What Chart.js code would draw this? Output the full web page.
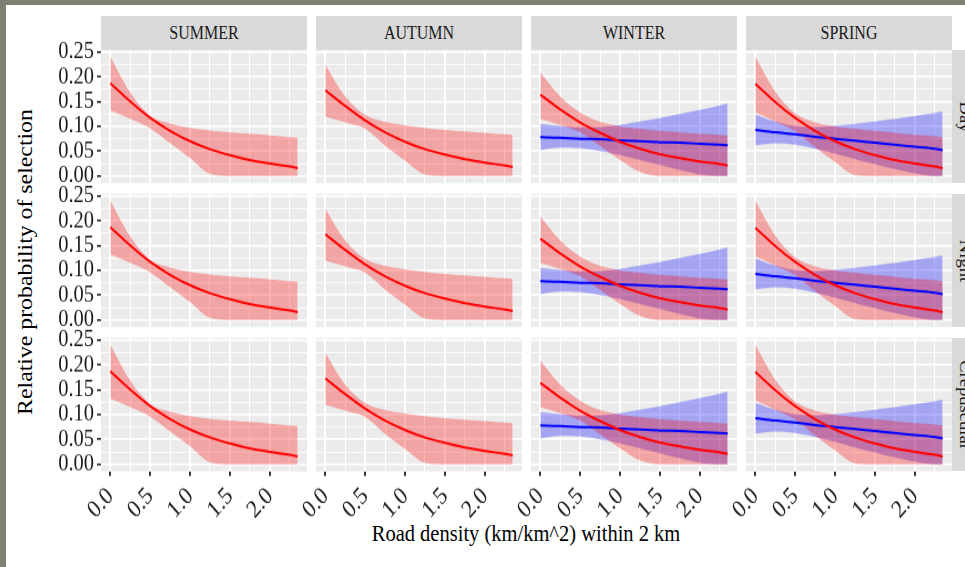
<!DOCTYPE html>
<html>
<head>
<meta charset="utf-8">
<script src="https://cdn.jsdelivr.net/npm/chart.js@4.4.1/dist/chart.umd.min.js"></script>
<style>
html, body { margin: 0; padding: 0; }
body { width: 965px; height: 567px; overflow: hidden; background: #7d8173; position: relative; font-family: 'Liberation Serif', 'Times New Roman', serif; }
#page { position: absolute; left: 6px; top: 5px; width: 959px; height: 562px; background: #fff; }
canvas { position: absolute; }
.strip { position: absolute; background: #d9d9d9; color: #1a1a1a; font-size: 16px; display: flex; align-items: center; justify-content: center; overflow: hidden; }
.strip span { transform: scaleY(1.16); white-space: nowrap; }
.strip span.rot { transform: translateX(-4px) scaleY(1.16) rotate(90deg); }
.title { position: absolute; color: #000; font-size: 20.5px; white-space: nowrap; }
</style>
</head>
<body>
<div id="page"></div>
<div class="title" style="left:25px; top:262px; transform:translate(-50%,-50%) scaleY(1.16) rotate(-90deg);">Relative probability of selection</div>
<div class="title" style="left:526px; top:533px; transform:translate(-50%,-50%) scaleY(1.16);">Road density (km/km^2) within 2 km</div>
<script>
const seasons = ['SUMMER', 'AUTUMN', 'WINTER', 'SPRING'];
const periods = ['Day', 'Night', 'Crepuscular'];

const roadDensity = [0, 0.25, 0.5, 0.75, 1.0, 1.25, 1.5, 1.75, 2.0, 2.25, 2.35];

const xTicks = [0, 0.5, 1.0, 1.5, 2.0];
const xMinor = [0.25, 0.75, 1.25, 1.75, 2.25];
const yTicks = [0, 0.05, 0.10, 0.15, 0.20, 0.25];
const yMinor = [0.025, 0.075, 0.125, 0.175, 0.225];

// red group
const summerFit = [0.187, 0.150, 0.117, 0.091, 0.070, 0.054, 0.042, 0.032, 0.025, 0.019, 0.016];
const summerHi  = [0.241, 0.168, 0.121, 0.106, 0.097, 0.092, 0.088, 0.085, 0.082, 0.078, 0.077];
const summerLo  = [0.132, 0.115, 0.096, 0.066, 0.036, 0.004, 0, 0, 0, 0, 0];

const autumnFit = [0.173, 0.141, 0.112, 0.088, 0.069, 0.054, 0.043, 0.034, 0.027, 0.021, 0.018];
const autumnHi  = [0.224, 0.160, 0.123, 0.109, 0.102, 0.097, 0.093, 0.090, 0.087, 0.084, 0.083];
const autumnLo  = [0.120, 0.108, 0.095, 0.061, 0.031, 0.003, 0, 0, 0, 0, 0];

const winterFit = [0.164, 0.134, 0.108, 0.087, 0.069, 0.055, 0.044, 0.036, 0.029, 0.024, 0.021];
const winterHi  = [0.209, 0.160, 0.128, 0.109, 0.100, 0.095, 0.091, 0.088, 0.085, 0.083, 0.082];
const winterLo  = [0.115, 0.103, 0.088, 0.060, 0.032, 0.008, 0, 0, 0, 0, 0];

const springFit = [0.186, 0.149, 0.117, 0.091, 0.070, 0.054, 0.042, 0.032, 0.025, 0.019, 0.016];
const springHi  = [0.240, 0.170, 0.126, 0.108, 0.100, 0.095, 0.091, 0.087, 0.083, 0.080, 0.078];
const springLo  = [0.128, 0.110, 0.090, 0.058, 0.028, 0.002, 0, 0, 0, 0, 0];

// blue group (winter and spring only)
const winterBlueFit = [0.078, 0.077, 0.075, 0.074, 0.072, 0.070, 0.068, 0.067, 0.065, 0.063, 0.062];
const winterBlueHi  = [0.105, 0.101, 0.098, 0.099, 0.103, 0.110, 0.117, 0.125, 0.133, 0.142, 0.146];
const winterBlueLo  = [0.052, 0.057, 0.056, 0.050, 0.042, 0.032, 0.022, 0.012, 0.003, 0, 0];

const springBlueFit = [0.093, 0.088, 0.084, 0.079, 0.075, 0.071, 0.067, 0.063, 0.059, 0.055, 0.052];
const springBlueHi  = [0.124, 0.110, 0.101, 0.099, 0.101, 0.105, 0.110, 0.115, 0.121, 0.127, 0.130];
const springBlueLo  = [0.062, 0.066, 0.063, 0.055, 0.045, 0.034, 0.024, 0.014, 0.005, 0, 0];

const redSeries = {
  SUMMER: [summerFit, summerHi, summerLo],
  AUTUMN: [autumnFit, autumnHi, autumnLo],
  WINTER: [winterFit, winterHi, winterLo],
  SPRING: [springFit, springHi, springLo]
};
const blueSeries = {
  WINTER: [winterBlueFit, winterBlueHi, winterBlueLo],
  SPRING: [springBlueFit, springBlueHi, springBlueLo]
};

// panel layout (screen px); the source picture is stretched vertically by ~1.16
const colLeft = [101, 316, 531, 746];
const rowTop = [50, 194, 338];
const panelW = 206, panelH = 133;
const k = 1.16;
const font = "'Liberation Serif', 'Times New Roman', serif";

const pts = arr => roadDensity.map((x, i) => ({ x: x, y: arr[i] }));

const panelBg = {
  id: 'panelBg',
  beforeDraw(chart) {
    const a = chart.chartArea;
    chart.ctx.save();
    chart.ctx.fillStyle = '#ebebeb';
    chart.ctx.fillRect(a.left, a.top, a.right - a.left, a.bottom - a.top);
    chart.ctx.restore();
  }
};

function addStrip(left, top, w, h, text, rotated) {
  const d = document.createElement('div');
  d.className = 'strip';
  d.style.left = left + 'px'; d.style.top = top + 'px';
  d.style.width = w + 'px'; d.style.height = h + 'px';
  const s = document.createElement('span');
  s.textContent = text;
  if (rotated) s.className = 'rot';
  d.appendChild(s);
  document.body.appendChild(d);
}

seasons.forEach((s, c) => addStrip(colLeft[c], 16, panelW, 34, s, false));
periods.forEach((p, r) => addStrip(952, rowTop[r], 34, panelH, p, true));

function makePanel(r, c) {
  const season = seasons[c];
  const showY = c === 0, showX = r === 2;
  const pl = showY ? 4 : 36, pr = 6, pt = 14;
  const yW = showY ? 60 : 0, xH = showX ? 54 : 0;

  // inner (unstretched) vertical sizes
  const ptI = pt / k, panelI = panelH / k, xHI = xH / k;
  const hI = Math.ceil(ptI + panelI + xHI + 5);
  const pbI = hI - ptI - panelI - xHI;

  const cv = document.createElement('canvas');
  cv.width = pl + yW + panelW + pr;
  cv.height = hI;
  cv.style.width = cv.width + 'px';
  cv.style.height = (hI * k) + 'px';
  cv.style.left = (colLeft[c] - pl - yW) + 'px';
  cv.style.top = (rowTop[r] - pt) + 'px';
  document.body.appendChild(cv);

  const red = redSeries[season];
  const blue = blueSeries[season];
  const datasets = [
    { data: pts(red[0]), borderColor: '#ff0000', borderWidth: 2, fill: false },
  ];
  if (blue) datasets.push({ data: pts(blue[0]), borderColor: '#0000ff', borderWidth: 2, fill: false });
  datasets.push({ data: pts(red[1]), borderWidth: 0, borderColor: 'rgba(0,0,0,0)', backgroundColor: 'rgba(255,0,0,0.3)', fill: '+1' });
  datasets.push({ data: pts(red[2]), borderWidth: 0, borderColor: 'rgba(0,0,0,0)', fill: false });
  if (blue) {
    datasets.push({ data: pts(blue[1]), borderWidth: 0, borderColor: 'rgba(0,0,0,0)', backgroundColor: 'rgba(0,0,255,0.3)', fill: '+1' });
    datasets.push({ data: pts(blue[2]), borderWidth: 0, borderColor: 'rgba(0,0,0,0)', fill: false });
  }

  const isMajorX = v => xTicks.includes(v);
  const isMajorY = v => yTicks.includes(v);

  new Chart(cv, {
    type: 'line',
    data: { datasets: datasets },
    plugins: [panelBg],
    options: {
      responsive: false,
      animation: false,
      events: [],
      layout: { padding: { left: pl, right: pr, top: ptI, bottom: pbI } },
      plugins: { legend: { display: false }, tooltip: { enabled: false } },
      elements: {
        point: { radius: 0 },
        line: { cubicInterpolationMode: 'monotone' }
      },
      scales: {
        x: {
          type: 'linear',
          min: -0.1175,
          max: 2.4675,
          afterBuildTicks: sc => { sc.ticks = xTicks.concat(xMinor).sort((a, b) => a - b).map(v => ({ value: v })); },
          afterFit: sc => { sc.height = xHI; sc.paddingLeft = 0; sc.paddingRight = 0; },
          border: { display: false },
          grid: {
            color: '#ffffff',
            lineWidth: ctx => isMajorX(ctx.tick.value) ? 2 : 1,
            drawTicks: showX,
            tickLength: 4,
            tickWidth: 2,
            tickColor: ctx => isMajorX(ctx.tick.value) ? '#333333' : 'rgba(0,0,0,0)'
          },
          ticks: {
            display: showX,
            autoSkip: false,
            minRotation: 45,
            maxRotation: 45,
            padding: 5,
            color: '#1a1a1a',
            font: { family: font, size: 21.5 },
            callback: v => isMajorX(v) ? v.toFixed(1) : ''
          }
        },
        y: {
          type: 'linear',
          min: -0.014,
          max: 0.254,
          afterBuildTicks: sc => { sc.ticks = yTicks.concat(yMinor).sort((a, b) => a - b).map(v => ({ value: v })); },
          afterFit: sc => { sc.width = yW; sc.paddingTop = 0; sc.paddingBottom = 0; },
          border: { display: false },
          grid: {
            color: '#ffffff',
            lineWidth: ctx => isMajorY(ctx.tick.value) ? 2 / k : 1 / k,
            drawTicks: showY,
            tickLength: 4,
            tickWidth: 2 / k,
            tickColor: ctx => isMajorY(ctx.tick.value) ? '#333333' : 'rgba(0,0,0,0)'
          },
          ticks: {
            display: showY,
            autoSkip: false,
            padding: 3,
            color: '#1a1a1a',
            font: { family: font, size: 20.5 },
            callback: v => isMajorY(v) ? v.toFixed(2) : ''
          }
        }
      }
    }
  });
}

for (let r = 0; r < 3; r++) {
  for (let c = 0; c < 4; c++) makePanel(r, c);
}
</script>
</body>
</html>
